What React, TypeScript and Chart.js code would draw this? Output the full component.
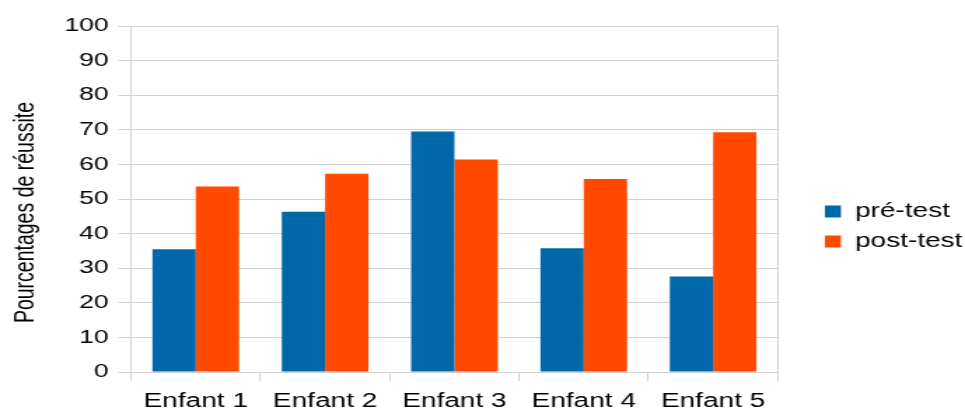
import React, { useEffect, useRef } from "react";
import { Chart, registerables } from "chart.js";

Chart.register(...registerables);

const categories = ["Enfant 1", "Enfant 2", "Enfant 3", "Enfant 4", "Enfant 5"];
const preTest = [35.5, 46.3, 69.5, 35.8, 27.6];
const postTest = [53.6, 57.3, 61.4, 55.8, 69.3];
const seriesLabels = ["pré-test", "post-test"];
const yTitle = "Pourcentages de réussite";

const BLUE = "#0068a8";
const ORANGE = "#ff4a00";
const GRID = "#d0d0d0";
const TEXT = "#000000";
const FONT = "'Liberation Sans', Arial, sans-serif";

const INNER_W = 689;
const SCALE_X = 965 / INNER_W;

export default function App() {
  const ref = useRef<HTMLCanvasElement | null>(null);

  useEffect(() => {
    if (!ref.current) return;
    const chart = new Chart(ref.current, {
      type: "bar",
      data: {
        labels: categories,
        datasets: [
          { label: seriesLabels[0], data: preTest, backgroundColor: BLUE, borderWidth: 0 },
          { label: seriesLabels[1], data: postTest, backgroundColor: ORANGE, borderWidth: 0 },
        ],
      },
      options: {
        animation: false,
        responsive: true,
        maintainAspectRatio: false,
        layout: { padding: { top: 26, left: 0, right: -5.7, bottom: 0 } },
        datasets: { bar: { categoryPercentage: 0.67, barPercentage: 1 } },
        plugins: {
          tooltip: { enabled: false },
          legend: {
            position: "right",
            align: "center",
            title: { display: true, text: " ", font: { size: 10 }, padding: { top: 2.5, bottom: 2.5 } },
            labels: {
              boxWidth: 11.5,
              boxHeight: 12,
              padding: 10,
              color: TEXT,
              font: { family: FONT, size: 20 },
            },
          },
        },
        scales: {
          x: {
            grid: {
              offset: true,
              drawOnChartArea: true,
              color: (ctx: any) => (ctx.type === "scale" || ctx.index === 0 ? GRID : "rgba(0,0,0,0)"),
              tickColor: GRID,
              tickLength: 9,
            },
            border: { display: true, color: GRID },
            ticks: {
              color: TEXT,
              font: { family: FONT, size: 20 },
              padding: 8,
              maxRotation: 0,
              autoSkip: false,
            },
            afterFit: (s: any) => {
              s.height = 38;
            },
          },
          y: {
            min: 0,
            max: 100,
            ticks: { stepSize: 10, color: TEXT, font: { family: FONT, size: 19 }, padding: 7 },
            grid: { color: GRID, tickLength: 9, drawTicks: true },
            border: { display: true, color: GRID },
            title: {
              display: true,
              text: yTitle + "     ",
              color: TEXT,
              font: { family: FONT, size: 19.5 },
              padding: { top: 7, bottom: 0 },
            },
            afterFit: (s: any) => {
              s.width = 93.6;
            },
          },
          y2: {
            type: "linear",
            position: "right",
            display: true,
            grid: { display: false },
            border: { display: false },
            ticks: { display: false },
            afterFit: (s: any) => {
              s.width = 23.6;
            },
          },
        },
      },
    });
    return () => chart.destroy();
  }, []);

  return (
    <div
      style={{
        position: "fixed",
        left: 0,
        top: 0,
        width: 965,
        height: 410,
        overflow: "hidden",
        background: "#ffffff",
      }}
    >
      <div
        style={{
          width: INNER_W,
          height: 410,
          transform: `scaleX(${SCALE_X})`,
          transformOrigin: "0 0",
        }}
      >
        <canvas ref={ref} />
      </div>
    </div>
  );
}
